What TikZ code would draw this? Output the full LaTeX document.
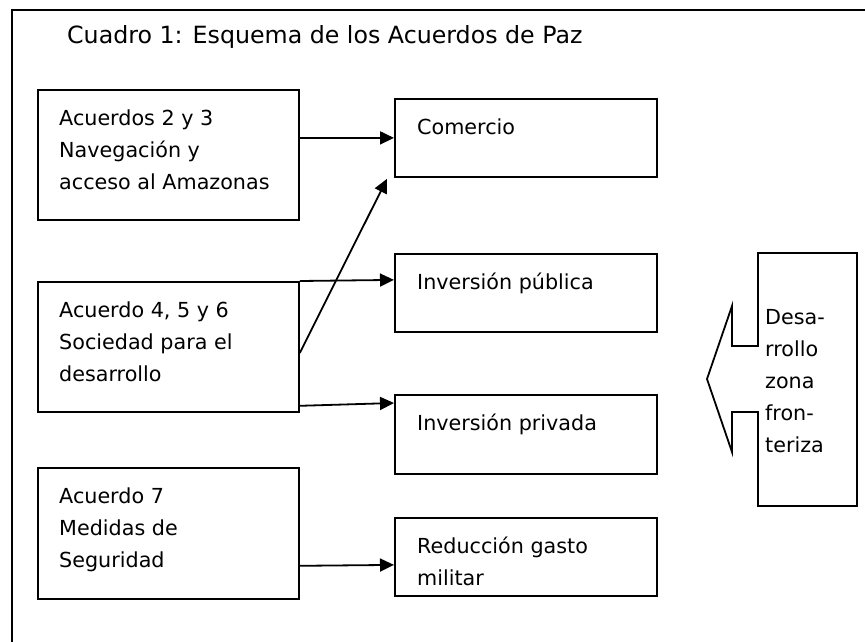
\documentclass[tikz,border=0pt]{standalone}
\usepackage{fontspec}
\setmainfont{DejaVu Sans}
\usetikzlibrary{calc,arrows.meta}
\begin{document}
\begin{tikzpicture}[x=1pt,y=-1pt,
  box/.style={draw, line width=1.8pt, fill=white, anchor=north west, inner sep=0pt, minimum width=262pt},
  txt/.style={anchor=base west, inner sep=0pt, font=\fontsize{20.7}{32}\selectfont},
  conn/.style={line width=1.8pt, -{Triangle[length=14pt,width=13pt]}},
  frame/.style={line width=2pt}]
\path[use as bounding box] (0,0) rectangle (865,641);
\clip (0,0) rectangle (865,641);
\fill[white] (0,0) rectangle (865,641);
\draw[frame] (12,10) rectangle (900,700);
\node[anchor=base west, inner sep=0pt, font=\fontsize{23.7}{28}\selectfont] (title) at (67,43) {Cuadro 1: Esquema de los Acuerdos de Paz};
% left boxes
\node[box, minimum width=261pt, minimum height=130pt] (A) at (37,89) {};
\node[box, minimum width=261pt, minimum height=130pt] (B) at (37,281) {};
\node[box, minimum width=261pt, minimum height=131pt] (C) at (37,467) {};
% right boxes
\node[box, minimum height=78pt] (com) at (394,98) {};
\node[box, minimum height=78pt] (pub) at (394,253) {};
\node[box, minimum height=79pt] (priv) at (394,394) {};
\node[box, minimum height=78pt] (red) at (394,517) {};
% texts
\node[txt] (tA) at ($(A.north west)+(22,36)$) {\parbox[t]{250pt}{Acuerdos 2 y 3\\Navegación y\\acceso al Amazonas}};
\node[txt] (tB) at ($(B.north west)+(22,36)$) {\parbox[t]{250pt}{Acuerdo 4, 5 y 6\\Sociedad para el\\desarrollo}};
\node[txt] (tC) at ($(C.north west)+(22,36)$) {\parbox[t]{250pt}{Acuerdo 7\\Medidas de\\Seguridad}};
\node[txt] (tcom) at ($(com.north west)+(23,36)$) {Comercio};
\node[txt] (tpub) at ($(pub.north west)+(23,36)$) {Inversión pública};
\node[txt] (tpriv) at ($(priv.north west)+(23,36)$) {Inversión privada};
\node[txt] (tred) at ($(red.north west)+(23,36)$) {\parbox[t]{250pt}{Reducción gasto\\militar}};
% connectors
\draw[conn] (A.east |- com.west) -- (com.west);
\draw[conn] ($(B.east)+(0,6)$) -- ($(com.south west)+(-7,1)$);
\draw[conn] (B.north east) -- ($(pub.west)+(0,-13)$);
\draw[conn] ($(B.south east)+(0,-7)$) -- ($(priv.north west)+(0,9)$);
\draw[conn] ($(C.south east)+(0,-34)$) -- ($(red.west)+(0,8)$);
% callout
\coordinate (d1) at (758,253);
\coordinate (d2) at (857,253);
\coordinate (d3) at (857,506);
\coordinate (d4) at (758,506);
\draw[line width=1.8pt, fill=white, line join=miter]
  (d1) -- (d2) -- (d3) -- (d4) -- (758,412) -- (732,412) -- (732,452)
  -- (707,379) -- (732,306) -- (732,346) -- (758,346) -- cycle;
\node[txt] (tdes) at (765,324) {\parbox[t]{90pt}{Desa-\\rrollo\\zona\\fron-\\teriza}};
\end{tikzpicture}
\end{document}
